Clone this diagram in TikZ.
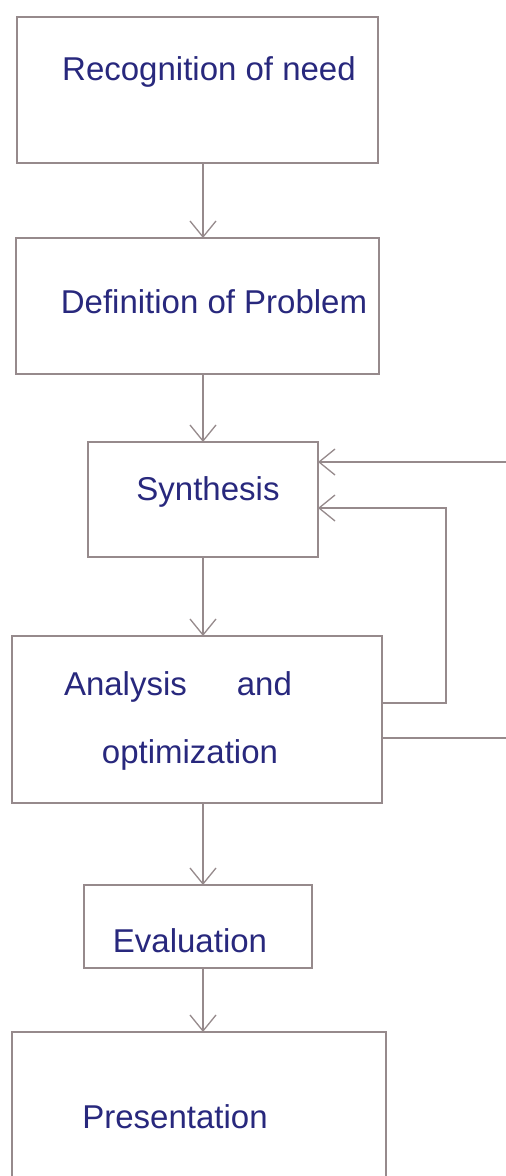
\documentclass[tikz,border=0pt]{standalone}
\usepackage{fontspec}
\setmainfont{Liberation Sans}
\usetikzlibrary{arrows.meta}
\definecolor{pencil}{RGB}{150,138,140}
\definecolor{ink}{RGB}{40,40,125}
\tikzset{
  box/.style={draw=pencil, line width=1.1pt, rectangle, inner sep=0pt, outer sep=0pt},
  label text/.style={text=ink, anchor=base, inner sep=0pt, font=\fontsize{33}{40}\selectfont},
  arr/.style={draw=pencil, line width=1.1pt, -{Straight Barb[length=16pt,width=26pt,line width=1.3pt]}},
  wire/.style={draw=pencil, line width=1.1pt}
}
\begin{document}
\begin{tikzpicture}[x=1pt,y=-1pt]
  \clip (0,0) rectangle (506,1176);
  \fill[white] (0,0) rectangle (506,1176);

  % process boxes
  \node[box, minimum width=361pt, minimum height=146pt] (b1) at (197.5,90) {};
  \node[box, minimum width=363pt, minimum height=136pt] (b2) at (197.5,306) {};
  \node[box, minimum width=230pt, minimum height=115pt] (b3) at (203,499.5) {};
  \node[box, minimum width=370pt, minimum height=167pt] (b4) at (197,719.5) {};
  \node[box, minimum width=228pt, minimum height=83pt] (b5) at (198,926.5) {};
  \node[box, minimum width=374pt, minimum height=168pt] (b6) at (199,1116) {};

  % box texts
  \node[label text] (t1) at (209,80) {Recognition of need};
  \node[label text] (t2) at (214,313) {Definition of Problem};
  \node[label text] (t3) at (208,500) {Synthesis};
  \node[label text] (t4a) at (178,695) {Analysis\hspace{50pt}and};
  \node[label text] (t4b) at (190,763) {optimization};
  \node[label text] (t5) at (190,952) {Evaluation};
  \node[label text] (t6) at (175,1128) {Presentation};

  % main flow
  \draw[arr] (b1.south -| b3) -- (b2.north -| b3);
  \draw[arr] (b2.south -| b3) -- (b3.north);
  \draw[arr] (b3.south) -- (b4.north -| b3);
  \draw[arr] (b4.south -| b3) -- (b5.north -| b3);
  \draw[arr] (b5.south -| b3) -- (b6.north -| b3);

  % inner feedback loop
  \coordinate (ina) at (446,703);
  \coordinate (inb) at (446,508);
  \draw[arr] (b4.east |- ina) -- (ina) -- (inb) -- (b3.east |- inb);

  % outer feedback loop (runs past the right edge)
  \coordinate (outa) at (530,738);
  \coordinate (outb) at (530,462);
  \draw[arr] (b4.east |- outa) -- (outa) -- (outb) -- (b3.east |- outb);
\end{tikzpicture}
\end{document}
